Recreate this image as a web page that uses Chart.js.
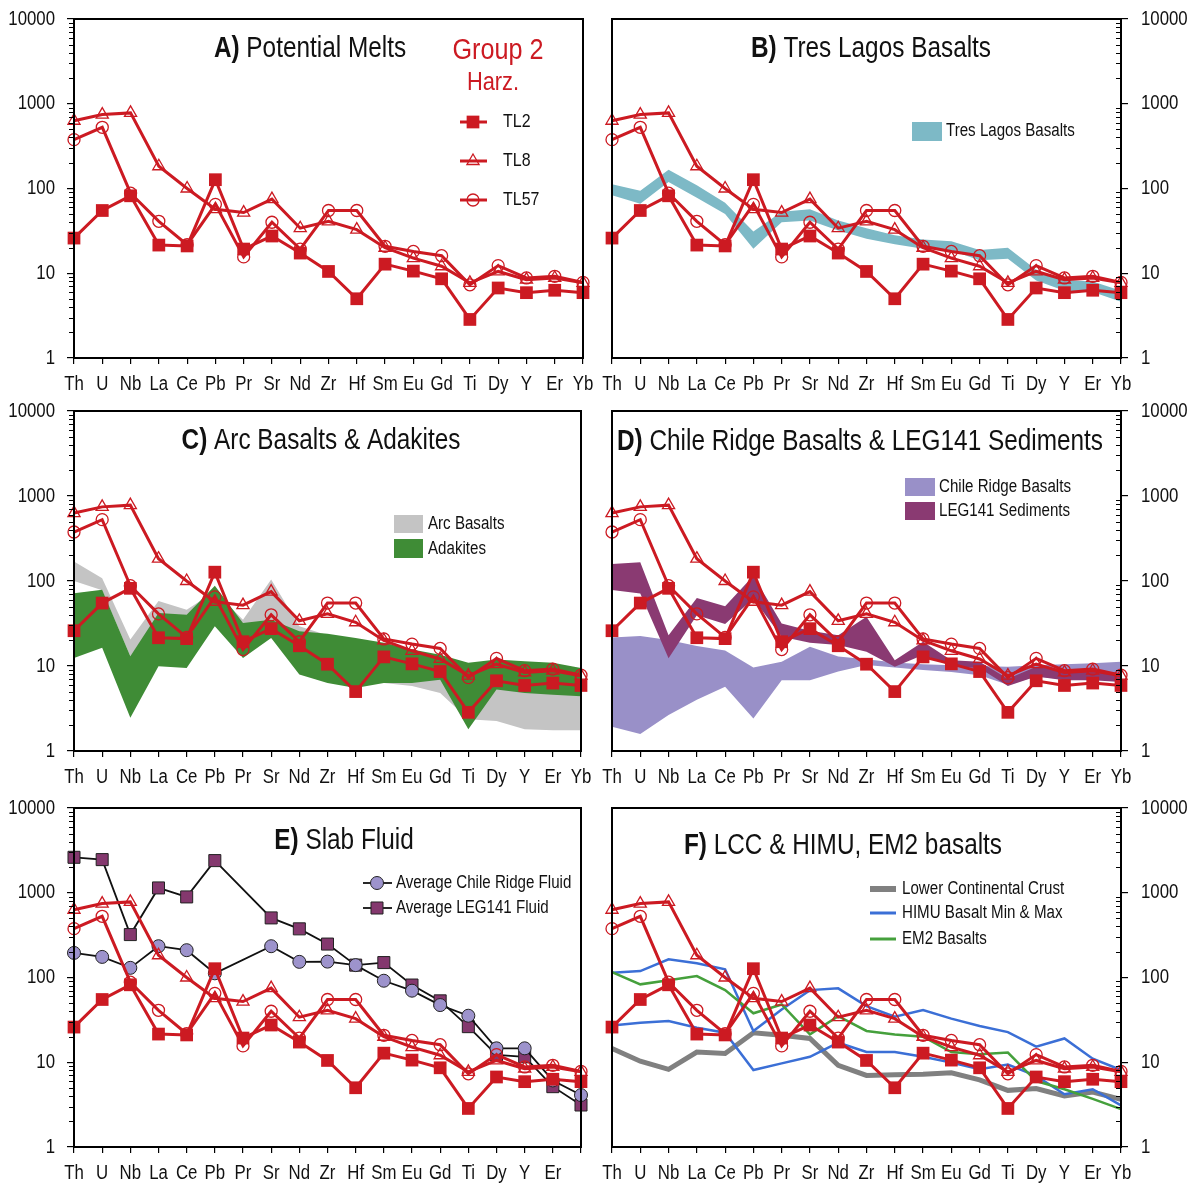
<!DOCTYPE html>
<html>
<head>
<meta charset="utf-8">
<title>Trace element patterns</title>
<script src="https://cdn.jsdelivr.net/npm/chart.js@4.4.1/dist/chart.umd.min.js"></script>
<style>
html, body { margin: 0; padding: 0; background: #fff; }
#wrap { position: relative; width: 1191px; height: 1184px; overflow: hidden; background: #fff; }
.panel { position: absolute; }
</style>
</head>
<body>
<div id="wrap"></div>
<script>
// ---- element order (x axis) ----
const elements = ['Th','U','Nb','La','Ce','Pb','Pr','Sr','Nd','Zr','Hf','Sm','Eu','Gd','Ti','Dy','Y','Er','Yb'];
const elementsE = ['Th','U','Nb','La','Ce','Pb','Pr','Sr','Nd','Zr','Hf','Sm','Eu','Gd','Ti','Dy','Y','Er',''];
const yTickValues = [1, 10, 100, 1000, 10000];

// ---- Group 2 harzburgite potential melts ----
const tl2  = [26, 55, 82, 21.5, 21, 127, 19.3, 27.5, 17.3, 10.5, 5, 12.8, 10.6, 8.6, 2.85, 6.7, 5.9, 6.3, 5.9];
const tl8  = [630, 745, 780, 183, 100, 57, 52, 75, 34, 41, 32.7, 20, 15.1, 12.1, 7.7, 10.5, 8.4, 8.8, 7.7];
const tl57 = [377, 527, 88, 41, 21.7, 65, 15.6, 40, 19.3, 55, 55, 20.8, 18.1, 16.1, 7.3, 12.3, 8.8, 9.2, 7.8];

// ---- Tres Lagos basalts (range) ----
const tresLagosMax = [112, 94, 166, 109, 68, 31, 53, 57, 42, 34, 28, 25, 23.8, 18.8, 20, 11, 8.3, 8.0, 6.2];
const tresLagosMin = [83, 66, 119, 78, 50, 19.5, 40, 42, 32, 25.5, 22, 19.5, 18.6, 14.2, 14.8, 8.2, 6.2, 6.0, 4.6];

// ---- Arc basalts and adakites (ranges) ----
const arcMax = [170, 108, 20.5, 58, 46, 75, 35, 104, 29.3, 23, 20, 17, 14.5, 12.5, 9, 8, 7.5, 7, 6.5];
const arcMin = [100, 78, 13, 30, 28, 35, 15, 25, 12, 10, 8, 6.3, 5.8, 4.8, 2.36, 2.25, 1.8, 1.76, 1.76];
const adakiteMax = [72, 79, 13, 42, 40, 88, 32, 35, 25.6, 24, 21.4, 18.8, 15.6, 13.6, 10.9, 11.9, 11.4, 10.9, 9.5];
const adakiteMin = [12.4, 16.4, 2.46, 9.9, 9.5, 29.3, 12.4, 21.4, 7.95, 6.3, 5.5, 6.3, 6.3, 6.9, 1.8, 5.3, 4.8, 4.6, 4.4];

// ---- Chile Ridge basalts and LEG141 sediments (ranges) ----
const chileRidgeMax = [21.7, 22.5, 20.2, 17.2, 15.2, 9.6, 11.2, 16.8, 12.9, 12, 11, 10.5, 10.2, 10, 9.8, 10.2, 10.5, 10.8, 11.2];
const chileRidgeMin = [1.93, 1.58, 2.65, 4.0, 5.7, 2.42, 6.8, 6.8, 8.6, 10.3, 9.6, 9.0, 8.5, 7.8, 6.0, 7.5, 7.0, 7.0, 7.0];
const leg141Max = [158, 166, 23, 63, 50.6, 115, 31.6, 26, 23, 38, 11.7, 19.3, 11.7, 11.2, 7.1, 9.8, 8.8, 8.9, 8.2];
const leg141Min = [78.5, 71.5, 12.3, 39.6, 31.2, 62, 22.1, 18.8, 17.7, 14.7, 9.8, 13.5, 10, 9.4, 5.8, 7.5, 6.8, 6.8, 6.5];

// ---- Slab fluids ----
const chileRidgeFluid = [195, 175, 130, 234, 210, 112, null, 234, 153, 154, 140, 91.6, 69.9, 47.3, 35.4, 14.6, 14.6, 6.1, 4.1];
const leg141Fluid = [2620, 2460, 321, 1140, 893, 2395, null, 505, 375, 248, 140, 150, 81.5, 53, 26.3, 12.2, 11.6, 5.15, 3.13];

// ---- Lower continental crust, HIMU and EM2 basalts ----
const lowerCrust = [14.5, 10.3, 8.25, 13.2, 12.7, 22.3, 20.8, 19.1, 9.2, 7.0, 7.1, 7.2, 7.5, 6.2, 4.66, 4.9, 4.0, 4.45, 3.65];
const himuMax = [114, 119, 164, 147, 125, 23.4, 42, 71, 74.5, 46, 34.5, 41.3, 32.7, 26.8, 22.7, 15.3, 19.1, 11.0, 8.1];
const himuMin = [27.2, 29.3, 30.6, 25.6, 22.3, 8.1, 9.7, 11.6, 17, 13.2, 13.2, 11.6, 9.9, 8.25, 9.4, 6.9, 4.2, 4.8, 3.1];
const em2 = [116, 83, 93, 104, 71, 37.8, 48, 21.3, 35, 23.4, 21.3, 20, 13.2, 12.4, 13, 6.0, 4.8, 3.7, 2.8];

// ---- styling ----
const FONT = "'Liberation Sans', Arial, sans-serif";
const NARROW = 0.84;          // horizontal squeeze giving a condensed face
const INK = '#111';
const RED = '#cc1a22';
const TEAL = '#7db9c6';
const ARC_GREY = '#c4c4c4';
const ADAKITE_GREEN = '#3f8c36';
const LILAC = '#9990c8';
const PLUM = '#8a3a72';
const FLUID_LILAC = '#9d93cc';
const FLUID_PLUM = '#84386e';
const LCC_GREY = '#808080';
const HIMU_BLUE = '#3b6fd6';
const EM2_GREEN = '#45a03c';

function meltSets() {
  return [
    { label: 'TL2', data: tl2, borderColor: RED, backgroundColor: RED, borderWidth: 3,
      pointStyle: 'rect', pointRadius: 9, pointBorderWidth: 0, order: 0 },
    { label: 'TL8', data: tl8, borderColor: RED, backgroundColor: 'rgba(0,0,0,0)', borderWidth: 3,
      pointStyle: 'triangle', pointRadius: 7, pointBorderWidth: 1.3, order: 1 },
    { label: 'TL57', data: tl57, borderColor: RED, backgroundColor: 'rgba(0,0,0,0)', borderWidth: 3,
      pointStyle: 'circle', pointRadius: 6, pointBorderWidth: 1.3, order: 2 }
  ];
}

function bandSets(label, upper, lower, color, order) {
  return [
    { label: label, data: upper, fill: '+1', backgroundColor: color, borderColor: 'rgba(0,0,0,0)',
      borderWidth: 0, pointRadius: 0, order: order },
    { label: label + ' min', data: lower, fill: false, borderColor: 'rgba(0,0,0,0)',
      borderWidth: 0, pointRadius: 0, order: order }
  ];
}

function lineSet(label, data, color, width, order) {
  return { label: label, data: data, borderColor: color, backgroundColor: color, borderWidth: width,
           pointRadius: 0, fill: false, order: order };
}

// ---- drawing helpers ----
function marker(ctx, style, x, y, r, fill, stroke, lw) {
  ctx.save();
  ctx.beginPath();
  if (style === 'rect') {
    const s = r * Math.SQRT1_2;
    ctx.rect(x - s, y - s, 2 * s, 2 * s);
  } else if (style === 'triangle') {
    const w = r * Math.sqrt(3) / 2;
    ctx.moveTo(x, y - r);
    ctx.lineTo(x + w, y + r / 2);
    ctx.lineTo(x - w, y + r / 2);
    ctx.closePath();
  } else {
    ctx.arc(x, y, r, 0, Math.PI * 2);
  }
  if (fill) { ctx.fillStyle = fill; ctx.fill(); }
  if (stroke && lw > 0) { ctx.strokeStyle = stroke; ctx.lineWidth = lw; ctx.stroke(); }
  ctx.restore();
}

// condensed text: measured at full width, drawn squeezed horizontally
function textWidth(ctx, str, size, weight) {
  ctx.save();
  ctx.font = (weight || 'normal') + ' ' + size + 'px ' + FONT;
  const w = ctx.measureText(str).width * NARROW;
  ctx.restore();
  return w;
}
function text(ctx, str, x, y, size, color, align, weight) {
  const w = textWidth(ctx, str, size, weight);
  const x0 = align === 'center' ? x - w / 2 : align === 'right' ? x - w : x;
  ctx.save();
  ctx.font = (weight || 'normal') + ' ' + size + 'px ' + FONT;
  ctx.fillStyle = color || INK;
  ctx.textAlign = 'left';
  ctx.textBaseline = 'middle';
  ctx.translate(x0, y);
  ctx.scale(NARROW, 1);
  ctx.fillText(str, 0, 0);
  ctx.restore();
}

// ---- panel definitions (page coordinates) ----
const panels = [
  {
    box: { left: 0, top: 0, width: 596, height: 400 },
    plot: { left: 74, top: 19, right: 583, bottom: 358 }, side: 'left', labels: elements,
    title: { bold: 'A)', rest: 'Potential Melts', cx: 310, cy: 49 },
    datasets: () => meltSets(),
    legend: (ctx, P) => {
      let p = P(498, 51); text(ctx, 'Group 2', p.x, p.y, 30, RED, 'center');
      p = P(493, 83); text(ctx, 'Harz.', p.x, p.y, 26, RED, 'center');
      const items = [['TL2', 'rect', 9, RED, 0], ['TL8', 'triangle', 7, null, 1.3], ['TL57', 'circle', 6, null, 1.3]];
      const ys = [122, 161, 200];
      items.forEach((it, i) => {
        const a = P(460, ys[i]), b = P(487, ys[i]), m = P(473, ys[i]), t = P(503, ys[i]);
        ctx.save(); ctx.strokeStyle = RED; ctx.lineWidth = 3;
        ctx.beginPath(); ctx.moveTo(a.x, a.y); ctx.lineTo(b.x, b.y); ctx.stroke(); ctx.restore();
        marker(ctx, it[1], m.x, m.y, it[2], it[3], RED, it[4]);
        text(ctx, it[0], t.x, t.y, 19, INK);
      });
    }
  },
  {
    box: { left: 596, top: 0, width: 595, height: 400 },
    plot: { left: 612, top: 19, right: 1121, bottom: 358 }, side: 'right', labels: elements,
    title: { bold: 'B)', rest: 'Tres Lagos Basalts', cx: 871, cy: 49 },
    datasets: () => meltSets().concat(bandSets('Tres Lagos Basalts', tresLagosMax, tresLagosMin, TEAL, 5)),
    legend: (ctx, P) => {
      const r = P(912, 122);
      ctx.fillStyle = TEAL; ctx.fillRect(r.x, r.y, 30, 19);
      const t = P(946, 131); text(ctx, 'Tres Lagos Basalts', t.x, t.y, 18, INK);
    }
  },
  {
    box: { left: 0, top: 393, width: 596, height: 400 },
    plot: { left: 74, top: 411, right: 581, bottom: 751 }, side: 'left', labels: elements,
    title: { bold: 'C)', rest: 'Arc Basalts & Adakites', cx: 321, cy: 441 },
    datasets: () => meltSets()
      .concat(bandSets('Adakites', adakiteMax, adakiteMin, ADAKITE_GREEN, 5))
      .concat(bandSets('Arc Basalts', arcMax, arcMin, ARC_GREY, 6)),
    legend: (ctx, P) => {
      let r = P(394, 515); ctx.fillStyle = ARC_GREY; ctx.fillRect(r.x, r.y, 29, 18);
      r = P(394, 539); ctx.fillStyle = ADAKITE_GREEN; ctx.fillRect(r.x, r.y, 29, 19);
      let t = P(428, 524); text(ctx, 'Arc Basalts', t.x, t.y, 18, INK);
      t = P(428, 549); text(ctx, 'Adakites', t.x, t.y, 18, INK);
    }
  },
  {
    box: { left: 596, top: 393, width: 595, height: 400 },
    plot: { left: 612, top: 411, right: 1121, bottom: 751 }, side: 'right', labels: elements,
    title: { bold: 'D)', rest: 'Chile Ridge Basalts & LEG141 Sediments', cx: 860, cy: 442 },
    datasets: () => meltSets()
      .concat(bandSets('LEG141 Sediments', leg141Max, leg141Min, PLUM, 5))
      .concat(bandSets('Chile Ridge Basalts', chileRidgeMax, chileRidgeMin, LILAC, 6)),
    legend: (ctx, P) => {
      let r = P(905, 478); ctx.fillStyle = LILAC; ctx.fillRect(r.x, r.y, 30, 18);
      r = P(905, 502); ctx.fillStyle = PLUM; ctx.fillRect(r.x, r.y, 30, 18);
      let t = P(939, 487); text(ctx, 'Chile Ridge Basalts', t.x, t.y, 18, INK);
      t = P(939, 511); text(ctx, 'LEG141 Sediments', t.x, t.y, 18, INK);
    }
  },
  {
    box: { left: 0, top: 789, width: 596, height: 395 },
    plot: { left: 74, top: 808, right: 581, bottom: 1147 }, side: 'left', labels: elementsE,
    title: { bold: 'E)', rest: 'Slab Fluid', cx: 344, cy: 841 },
    datasets: () => meltSets().concat([
      { label: 'Average Chile Ridge Fluid', data: chileRidgeFluid, borderColor: INK, borderWidth: 1.8,
        pointStyle: 'circle', pointRadius: 6.5, pointBackgroundColor: FLUID_LILAC, pointBorderColor: '#222',
        pointBorderWidth: 1, spanGaps: true, order: 4 },
      { label: 'Average LEG141 Fluid', data: leg141Fluid, borderColor: INK, borderWidth: 1.8,
        pointStyle: 'rect', pointRadius: 8.5, pointBackgroundColor: FLUID_PLUM, pointBorderColor: '#222',
        pointBorderWidth: 1, spanGaps: true, order: 5 }
    ]),
    legend: (ctx, P) => {
      const rows = [['Average Chile Ridge Fluid', 'circle', 6.5, FLUID_LILAC, 883], ['Average LEG141 Fluid', 'rect', 8.5, FLUID_PLUM, 908]];
      rows.forEach(rw => {
        const a = P(363, rw[4]), b = P(392, rw[4]), m = P(377, rw[4]), t = P(396, rw[4]);
        ctx.save(); ctx.strokeStyle = INK; ctx.lineWidth = 1.8;
        ctx.beginPath(); ctx.moveTo(a.x, a.y); ctx.lineTo(b.x, b.y); ctx.stroke(); ctx.restore();
        marker(ctx, rw[1], m.x, m.y, rw[2], rw[3], '#222', 1);
        text(ctx, rw[0], t.x, t.y, 18, INK);
      });
    }
  },
  {
    box: { left: 596, top: 789, width: 595, height: 395 },
    plot: { left: 612, top: 808, right: 1121, bottom: 1147 }, side: 'right', labels: elements,
    title: { bold: 'F)', rest: 'LCC & HIMU, EM2 basalts', cx: 843, cy: 846 },
    datasets: () => meltSets().concat([
      lineSet('Lower Continental Crust', lowerCrust, LCC_GREY, 5, 6),
      lineSet('HIMU Basalt Max', himuMax, HIMU_BLUE, 2.5, 5),
      lineSet('HIMU Basalt Min', himuMin, HIMU_BLUE, 2.5, 5),
      lineSet('EM2 Basalts', em2, EM2_GREEN, 2.5, 4)
    ]),
    legend: (ctx, P) => {
      const rows = [['Lower Continental Crust', LCC_GREY, 6, 889], ['HIMU Basalt Min & Max', HIMU_BLUE, 3, 913], ['EM2 Basalts', EM2_GREEN, 3, 939]];
      rows.forEach(rw => {
        const a = P(870, rw[3]), b = P(896, rw[3]), t = P(902, rw[3]);
        ctx.save(); ctx.strokeStyle = rw[1]; ctx.lineWidth = rw[2];
        ctx.beginPath(); ctx.moveTo(a.x, a.y); ctx.lineTo(b.x, b.y); ctx.stroke(); ctx.restore();
        text(ctx, rw[0], t.x, t.y, 18, INK);
      });
    }
  }
];

// ---- frame, minor log ticks, axis labels, title and legend ----
const panelDecor = {
  id: 'panelDecor',
  afterDraw(chart, args, opts) {
    const cfg = opts.cfg;
    const ctx = chart.ctx;
    const ca = chart.chartArea;
    const P = (x, y) => ({ x: x - cfg.box.left, y: y - cfg.box.top });
    const xs = chart.scales.x, ys = chart.scales.y;
    const leftSide = cfg.side === 'left';
    const ax = leftSide ? ca.left : ca.right;

    ctx.save();
    // frame
    ctx.strokeStyle = '#000';
    ctx.lineWidth = 2;
    ctx.strokeRect(ca.left, ca.top, ca.right - ca.left, ca.bottom - ca.top);
    // minor ticks on the log axis
    ctx.lineWidth = 1;
    ctx.beginPath();
    [1, 10, 100, 1000].forEach(d => {
      for (let k = 2; k <= 9; k++) {
        const py = Math.round(ys.getPixelForValue(k * d)) + 0.5;
        ctx.moveTo(ax, py);
        ctx.lineTo(ax - 5, py);
      }
    });
    ctx.stroke();
    ctx.restore();

    // category labels under the x axis
    cfg.labels.forEach((lab, i) => {
      if (!lab) return;
      text(ctx, lab, xs.getPixelForValue(i), ca.bottom + 26, 20, INK, 'center');
    });
    // decade labels on the log axis
    yTickValues.forEach(v => {
      const py = ys.getPixelForValue(v);
      if (leftSide) text(ctx, String(v), ca.left - 19, py, 20, INK, 'right');
      else text(ctx, String(v), ca.right + 20, py, 20, INK, 'left');
    });

    // title: bold panel letter, regular caption
    const t = cfg.title;
    const c = P(t.cx, t.cy);
    const wb = textWidth(ctx, t.bold + ' ', 29, 'bold');
    const wr = textWidth(ctx, t.rest, 29, 'normal');
    const x0 = c.x - (wb + wr) / 2;
    text(ctx, t.bold, x0, c.y, 29, INK, 'left', 'bold');
    text(ctx, t.rest, x0 + wb, c.y, 29, INK, 'left', 'normal');

    cfg.legend(ctx, P);
  }
};

panels.forEach(cfg => {
  const div = document.createElement('div');
  div.className = 'panel';
  div.style.left = cfg.box.left + 'px';
  div.style.top = cfg.box.top + 'px';
  div.style.width = cfg.box.width + 'px';
  div.style.height = cfg.box.height + 'px';
  const canvas = document.createElement('canvas');
  canvas.width = cfg.box.width;
  canvas.height = cfg.box.height;
  canvas.style.width = cfg.box.width + 'px';
  canvas.style.height = cfg.box.height + 'px';
  div.appendChild(canvas);
  document.getElementById('wrap').appendChild(div);

  const boxRight = cfg.box.left + cfg.box.width;
  const boxBottom = cfg.box.top + cfg.box.height;
  const left = cfg.side === 'left';
  const yAxisWidth = left ? cfg.plot.left - cfg.box.left : boxRight - cfg.plot.right;
  const xAxisHeight = boxBottom - cfg.plot.bottom;

  new Chart(canvas, {
    type: 'line',
    data: { labels: cfg.labels, datasets: cfg.datasets() },
    options: {
      responsive: false,
      animation: false,
      devicePixelRatio: 1,
      layout: {
        padding: {
          left: left ? 0 : cfg.plot.left - cfg.box.left,
          right: left ? boxRight - cfg.plot.right : 0,
          top: cfg.plot.top - cfg.box.top,
          bottom: 0
        }
      },
      elements: { line: { tension: 0 } },
      plugins: {
        legend: { display: false },
        tooltip: { enabled: false },
        panelDecor: { cfg: cfg }
      },
      scales: {
        x: {
          type: 'category',
          offset: false,
          grid: { display: true, drawOnChartArea: false, drawTicks: true, tickLength: 6, color: '#000', lineWidth: 1.2 },
          border: { display: true, color: '#000', width: 2 },
          ticks: { display: false, autoSkip: false, maxRotation: 0, minRotation: 0 },
          afterFit: s => { s.height = xAxisHeight; }
        },
        y: {
          type: 'logarithmic',
          position: cfg.side,
          min: 1,
          max: 10000,
          afterBuildTicks: s => { s.ticks = yTickValues.map(v => ({ value: v })); },
          grid: { display: true, drawOnChartArea: false, drawTicks: true, tickLength: 7, color: '#000', lineWidth: 1.2 },
          border: { display: true, color: '#000', width: 2 },
          ticks: { display: false },
          afterFit: s => { s.width = yAxisWidth; }
        }
      }
    },
    plugins: [panelDecor]
  });
});
</script>
</body>
</html>
